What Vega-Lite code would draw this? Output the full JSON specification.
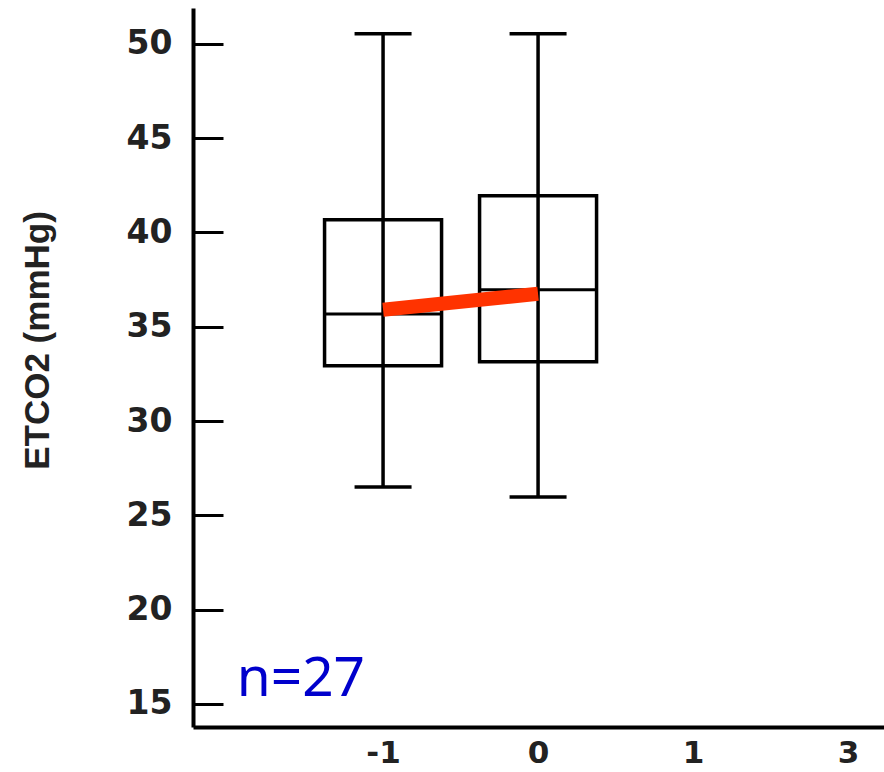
{
  "$schema": "https://vega.github.io/schema/vega-lite/v6.json",
  "autosize": {"type": "none"},
  "padding": {"left": 193, "top": 8, "right": 0, "bottom": 45},
  "width": 691,
  "height": 719,
  "background": "white",
  "config": {"view": {"stroke": null}},
  "datasets": {
    "boxes": [
      {"t": "-1", "low": 26.5, "q1": 32.93, "median": 35.68, "q3": 40.67, "high": 50.53},
      {"t": "0", "low": 25.98, "q1": 33.14, "median": 36.96, "q3": 41.94, "high": 50.53}
    ],
    "trend": [
      {"t": "-1", "v": 35.9},
      {"t": "0", "v": 36.75}
    ],
    "note": [
      {"t": "-1", "v": 16.3, "label": "n=27"}
    ]
  },
  "encoding": {
    "x": {
      "field": "t",
      "type": "ordinal",
      "scale": {"type": "point", "domain": ["-1", "0", "1", "3"], "padding": 0.729, "align": 0.841},
      "axis": {
        "title": null,
        "labelAngle": 0,
        "ticks": false,
        "domainColor": "black",
        "domainWidth": 4,
        "labelFont": "DejaVu Sans",
        "labelFontWeight": "bold",
        "labelFontSize": 31,
        "labelColor": "#222",
        "labelBaseline": "alphabetic",
        "labelPadding": 35
      }
    }
  },
  "layer": [
    {
      "data": {"name": "boxes"},
      "mark": {"type": "rule", "color": "black", "strokeWidth": 3.5},
      "encoding": {
        "y": {
          "field": "low",
          "type": "quantitative",
          "scale": {"domain": [13.78, 51.9], "nice": false, "zero": false},
          "axis": {
            "title": "ETCO2 (mmHg)",
            "values": [15, 20, 25, 30, 35, 40, 45, 50],
            "grid": false,
            "tickSize": -30,
            "tickWidth": 3,
            "tickColor": "black",
            "domainColor": "black",
            "domainWidth": 4,
            "labelFont": "DejaVu Sans",
            "labelFontWeight": "bold",
            "labelFontSize": 33,
            "labelColor": "#222",
            "labelPadding": 51,
            "titleFont": "Liberation Sans",
            "titleFontWeight": "bold",
            "titleFontSize": 35,
            "titleColor": "#222",
            "titlePadding": 71,
            "titleY": 332
          }
        },
        "y2": {"field": "high"}
      }
    },
    {
      "data": {"name": "boxes"},
      "mark": {"type": "bar", "size": 117, "fill": "transparent", "stroke": "black", "strokeWidth": 3.5},
      "encoding": {
        "y": {"field": "q1", "type": "quantitative"},
        "y2": {"field": "q3"}
      }
    },
    {
      "data": {"name": "boxes"},
      "mark": {"type": "tick", "size": 117, "thickness": 3, "color": "black", "opacity": 1},
      "encoding": {"y": {"field": "median", "type": "quantitative"}}
    },
    {
      "data": {"name": "boxes"},
      "mark": {"type": "tick", "size": 57, "thickness": 3.5, "color": "black", "opacity": 1},
      "encoding": {"y": {"field": "low", "type": "quantitative"}}
    },
    {
      "data": {"name": "boxes"},
      "mark": {"type": "tick", "size": 57, "thickness": 3.5, "color": "black", "opacity": 1},
      "encoding": {"y": {"field": "high", "type": "quantitative"}}
    },
    {
      "data": {"name": "trend"},
      "mark": {"type": "line", "color": "#FF3300", "strokeWidth": 14, "strokeCap": "butt"},
      "encoding": {"y": {"field": "v", "type": "quantitative"}}
    },
    {
      "data": {"name": "note"},
      "mark": {"type": "text", "align": "right", "baseline": "middle", "dx": -18, "font": "Noto Sans", "fontSize": 55, "color": "#0000CC"},
      "encoding": {
        "y": {"field": "v", "type": "quantitative"},
        "text": {"field": "label"}
      }
    }
  ]
}
